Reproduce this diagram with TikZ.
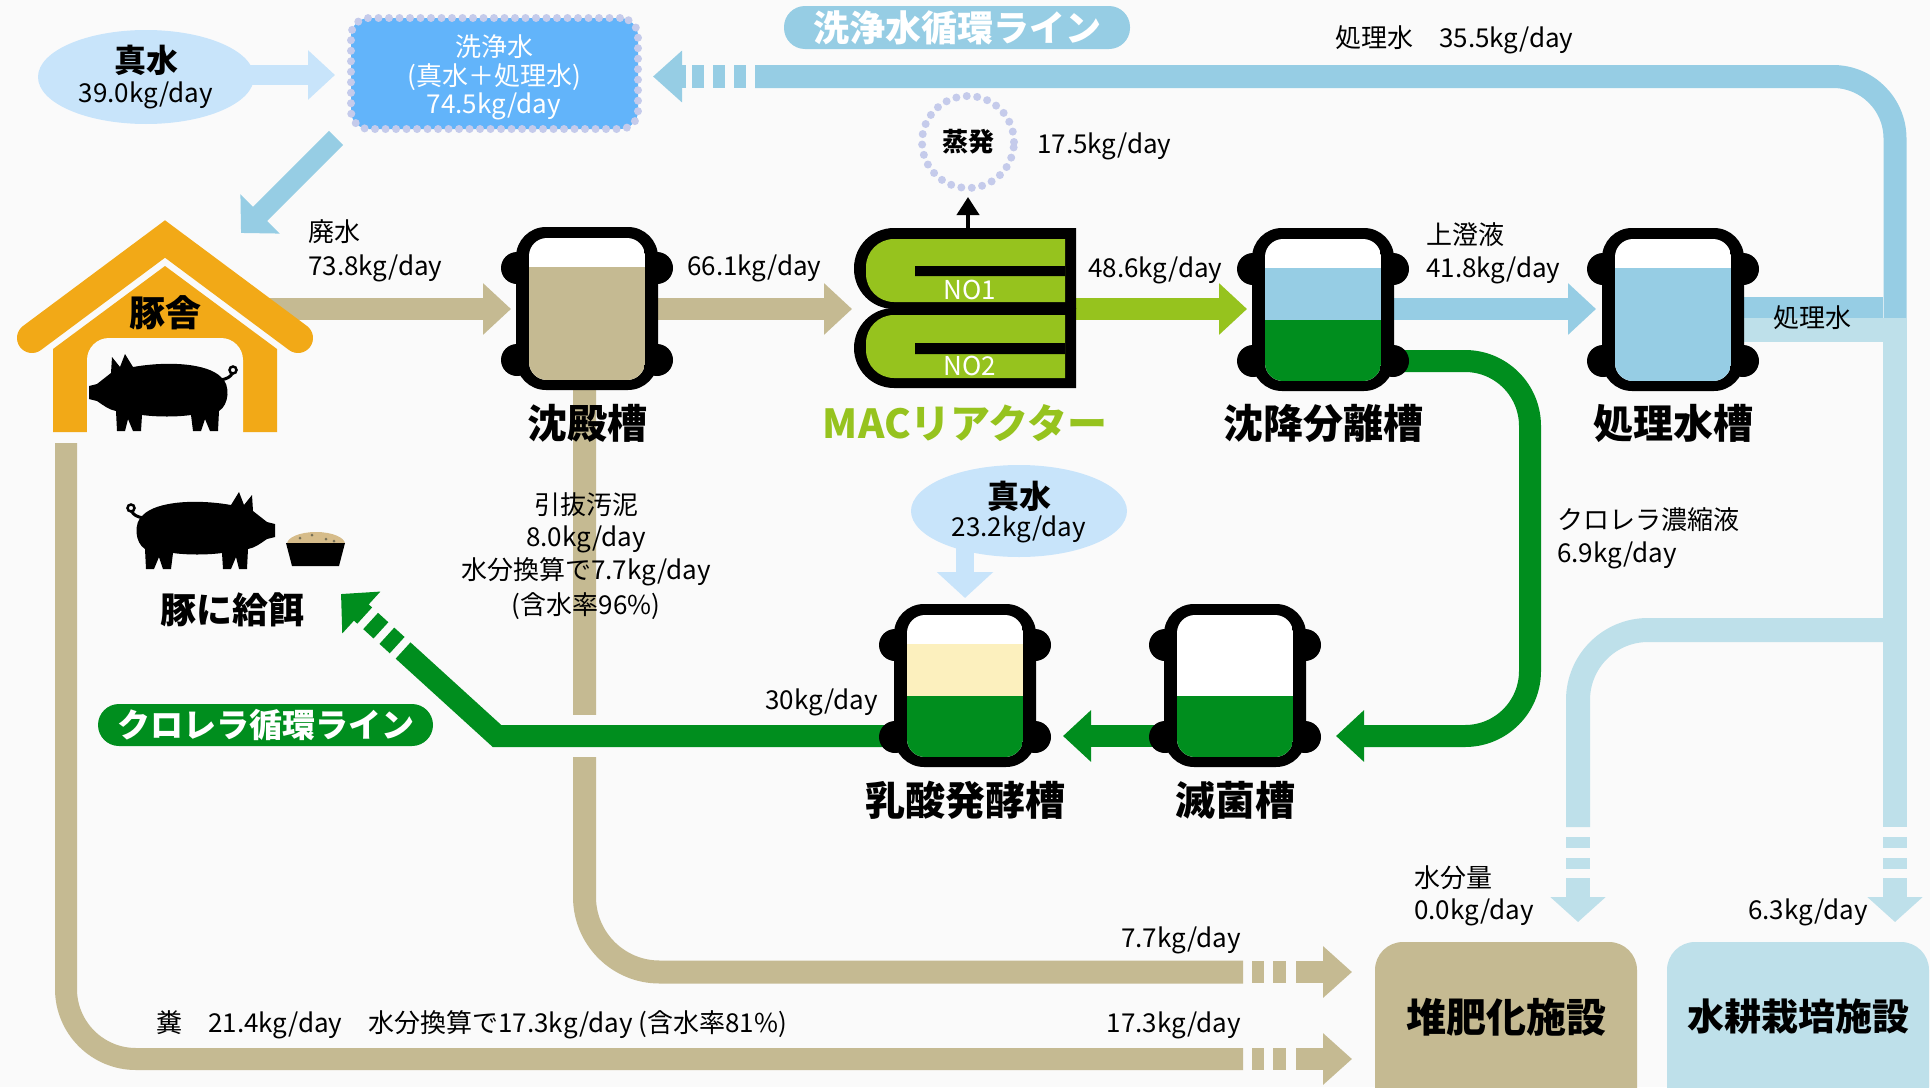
\documentclass[tikz,border=0pt]{standalone}
\usepackage{fontspec}
\setmainfont{Noto Sans CJK JP}
\usetikzlibrary{arrows.meta,calc,shapes.geometric}

\definecolor{paper}{RGB}{250,250,250}
\definecolor{sludge}{RGB}{197,186,146}
\definecolor{barn}{RGB}{242,169,23}
\definecolor{macgreen}{RGB}{150,195,30}
\definecolor{chlorella}{RGB}{0,142,30}
\definecolor{loopblue}{RGB}{150,205,228}
\definecolor{paleblue}{RGB}{190,224,234}
\definecolor{freshblue}{RGB}{200,228,250}
\definecolor{washblue}{RGB}{98,180,250}
\definecolor{cream}{RGB}{252,240,190}
\definecolor{dotline}{RGB}{197,203,235}
\definecolor{feed}{RGB}{214,188,138}

\tikzset{
  pics/tank/.style 2 args={code={
    \fill (-70,41) circle[radius=16] (70,41) circle[radius=16]
          (-70,133) circle[radius=16] (70,133) circle[radius=16];
    \fill[rounded corners=30pt] (-71,0) rectangle (71,163);
    \begin{scope}
      \clip[rounded corners=18pt] (-58,11) rectangle (58,153);
      \fill[white] (-58,11) rectangle (58,153);
      \fill[#1] (-58,40) rectangle (58,92);
      \fill[#2] (-58,92) rectangle (58,153);
    \end{scope}
  }},
  pics/pig/.style={code={
    \fill (16,22) .. controls (30,8) and (70,6) .. (104,12)
      -- (112,-1) -- (117,12) -- (125,2) -- (126,18)
      .. controls (133,23) .. (140,29) -- (148,31) -- (148,44) -- (140,46)
      .. controls (134,50) and (128,55) .. (121,56)
      -- (120,76) -- (112,76) -- (109,64) -- (104,76) -- (96,76) -- (95,60)
      .. controls (80,62) and (60,62) .. (46,60)
      -- (44,76) -- (36,76) -- (32,64) -- (27,76) -- (19,76) -- (18,56)
      .. controls (8,50) and (6,30) .. (16,22) -- cycle;
    \draw[line width=3pt] (17,25) .. controls (10,24) and (7,22) .. (5,19);
    \draw[line width=2.5pt] (4,15) circle[radius=3.5];
  }}
}

\begin{document}
\begin{tikzpicture}[x=1pt,y=-1pt,
  lbl/.style={font=\fontsize{26}{30}\selectfont, inner sep=0pt},
  ttl/.style={font=\fontsize{40}{46}\selectfont\bfseries, inner sep=0pt},
  pipe/.style={line width=22pt},
  flowtip/.style={-{Triangle[length=28pt,width=50pt]}},
  dots/.style={draw=dotline, line width=8pt, line cap=round, dash pattern=on 0pt off 10.5pt},
  pill/.style={rounded corners=21pt, inner sep=0pt, text=white, font=\fontsize{34}{38}\selectfont\bfseries}]

\clip (0,0) rectangle (1930,1087);
\fill[paper] (0,0) rectangle (1930,1087);

% washing water loop along the top
\node[pill, fill=loopblue, minimum width=346pt, minimum height=43pt, font=\fontsize{36}{40}\selectfont\bfseries] (washline) at (957,27.5) {洗浄水循環ライン};
\draw[loopblue, line width=23pt, rounded corners=62pt] (1895,318) -- (1895,76.5) -- (755,76.5);
\foreach \a in {734,713,692}
  \draw[loopblue, line width=23pt] (\a,76.5) -- ++(12,0);
\draw[loopblue, line width=23pt, -{Triangle[length=29pt,width=50pt]}] (686,76.5) -- (653,76.5);
\node[lbl, anchor=west] (loopval) at (1335,40) {処理水　35.5kg/day};

% fresh water and wash water box
\draw[freshblue, line width=20pt, -{Triangle[length=27pt,width=48pt]}] (220,75) -- (335,75);
\node[ellipse, fill=freshblue, minimum width=216pt, minimum height=94pt] (fresh) at (146,77) {};
\node[font=\fontsize{32}{36}\selectfont\bfseries] (freshname) at (146,60) {真水};
\node[lbl] (freshval) at (146,95) {39.0kg/day};

\node[dots, fill=washblue, rounded corners=18pt, minimum width=287pt, minimum height=111pt] (wash) at (494.5,73.5) {};
\node[lbl, text=white] (wash1) at (494,47) {洗浄水};
\node[lbl, text=white] (wash2) at (494,77) {(真水＋処理水)};
\node[lbl, text=white] (wash3) at (494,106) {74.5kg/day};
\draw[loopblue, line width=20pt, -{Triangle[length=27pt,width=54pt]}] (336,138) -- (241,233);

% manure and sludge lines to the compost plant
\draw[sludge, pipe, rounded corners=70pt] (66,443) -- (66,1059) -- (1243,1059);
\draw[sludge, line width=23pt, rounded corners=75pt] (584.5,380) -- (584.5,972) -- (1243,972);
\foreach \y in {972,1059} {
  \draw[sludge, pipe] (1252,\y) -- (1264,\y) (1273,\y) -- (1286,\y);
  \draw[sludge, pipe, -{Triangle[length=29pt,width=50pt]}] (1296,\y) -- (1352,\y);
}

% main treatment line
\draw[sludge, pipe, flowtip] (250,309) -- (511,309);
\draw[sludge, pipe, flowtip] (600,309) -- (852,309);
\draw[macgreen, pipe, flowtip] (1000,309) -- (1247,309);
\draw[loopblue, pipe, flowtip] (1330,309) -- (1596,309);
\draw[loopblue, line width=21pt] (1700,307.5) -- (1883,307.5);
\draw[paleblue, line width=24pt] (1700,330) -- (1883,330);

% treated water down to the facilities
\draw[paleblue, line width=24pt] (1895,318) -- (1895,827);
\draw[paleblue, line width=24pt, rounded corners=70pt] (1895,630) -- (1578,630) -- (1578,827);
\foreach \x in {1578,1895} {
  \draw[paleblue, line width=24pt] (\x,837) -- (\x,848) (\x,858) -- (\x,869);
  \draw[paleblue, line width=24pt, -{Triangle[length=25pt,width=54pt]}] (\x,878) -- (\x,922);
}

% chlorella line
\coordinate (bend) at (497,736);
\coordinate (feedtip) at (341,594);
\draw[chlorella, pipe, rounded corners=65pt, flowtip] (1330,361) -- (1530,361) -- (1530,736) -- (1336,736);
\draw[chlorella, pipe, flowtip] (1235,736) -- (1063,736);
\draw[paper, line width=42pt] (560,736) -- (610,736);
\draw[chlorella, pipe] (965,736) -- (bend) -- ($(feedtip)!0.398!(bend)$);
\draw[chlorella, pipe] ($(feedtip)!0.294!(bend)$) -- ($(feedtip)!0.360!(bend)$)
                       ($(feedtip)!0.190!(bend)$) -- ($(feedtip)!0.256!(bend)$);
\draw[chlorella, pipe, -{Triangle[length=27.5pt,width=55pt]}] ($(feedtip)!0.152!(bend)$) -- (feedtip);
\node[pill, fill=chlorella, minimum width=335pt, minimum height=42pt, font=\fontsize{33}{37}\selectfont\bfseries] (chlline) at (265.5,725) {クロレラ循環ライン};

% pig barn
\fill[barn] (53,432) -- (53,349) -- (165,266) -- (277,349) -- (277,432) -- cycle;
\fill[paper, rounded corners=22pt] (87,433) -- (87,338) -- (243,338) -- (243,433);
\draw[barn, line width=30pt, line cap=round] (32,338) -- (165,239) -- (298,338);
\node[font=\fontsize{36}{40}\selectfont\bfseries] (barnname) at (165,313) {豚舎};
\pic[xscale=-1] at (237,355) {pig};

% feeding
\pic at (127,493) {pig};
\fill[feed] (287,544) arc[start angle=180, end angle=360, x radius=29, y radius=12];
\fill[sludge!60!black] (300,538) circle[radius=1.5] (312,535) circle[radius=1.5]
  (326,539) circle[radius=1.5] (334,541) circle[radius=1.5];
\fill (286,543) -- (345,543) -- (339,566) -- (292,566) -- cycle;
\node[font=\fontsize{36}{40}\selectfont\bfseries] (feedname) at (232,610) {豚に給餌};

% tanks
\pic at (587,227) {tank={sludge}{sludge}};
\pic at (1323,228) {tank={loopblue}{chlorella}};
\pic at (1673,228) {tank={loopblue}{loopblue}};
\pic at (965,604) {tank={cream}{chlorella}};
\pic at (1235,604) {tank={white}{chlorella}};

% MAC reactor
\fill[rounded corners=40pt] (1076,228) -- (854,228) -- (854,309) -- (1076,309);
\fill[rounded corners=40pt] (1076,308) -- (854,308) -- (854,388) -- (1076,388);
\fill[macgreen, rounded corners=28pt] (1065,239) -- (866,239) -- (866,302) -- (1065,302);
\fill[macgreen, rounded corners=28pt] (1065,315) -- (866,315) -- (866,378) -- (1065,378);
\fill (915,266) rectangle (1065,276) (915,343) rectangle (1065,354);
\node[font=\fontsize{26}{30}\selectfont, text=white, inner sep=0pt] (no1) at (970,290) {NO1};
\node[font=\fontsize{26}{30}\selectfont, text=white, inner sep=0pt] (no2) at (970,366) {NO2};

% evaporation
\node[circle, dots, minimum size=92pt, font=\fontsize{26}{30}\selectfont\bfseries] (evap) at (968,142) {蒸発};
\draw[line width=4pt, -{Triangle[length=18pt,width=22pt]}, shorten >=5pt] (968,228) -- (evap.south);
\node[lbl, anchor=west] (evapval) at (1037,146) {17.5kg/day};

% fresh water for lactic fermentation
\draw[freshblue, line width=18pt, -{Triangle[length=26pt,width=55pt]}] (965,540) -- (965,598);
\node[ellipse, fill=freshblue, minimum width=216pt, minimum height=92pt] (fresh2) at (1019,511) {};
\node[font=\fontsize{32}{36}\selectfont\bfseries] (fresh2name) at (1019,496) {真水};
\node[lbl] (fresh2val) at (1019,529) {23.2kg/day};

% facilities
\fill[sludge, rounded corners=28pt] (1375,942) rectangle (1637,1130);
\fill[paleblue, rounded corners=28pt] (1667,942) rectangle (1929,1130);
\node[ttl] (compost) at (1506,1017) {堆肥化施設};
\node[ttl, font=\fontsize{37}{42}\selectfont\bfseries] (hydro) at (1798,1017) {水耕栽培施設};

% tank names
\node[ttl] (sedim) at (587,423) {沈殿槽};
\node[ttl, text=macgreen] (mac) at (965,423) {MACリアクター};
\node[ttl] (settle) at (1323,423) {沈降分離槽};
\node[ttl] (treated) at (1673,423) {処理水槽};
\node[ttl] (lactic) at (965,800) {乳酸発酵槽};
\node[ttl] (steril) at (1235,800) {滅菌槽};

% flow values
\node[lbl, anchor=west] (waste1) at (308,232) {廃水};
\node[lbl, anchor=west] (waste2) at (308,268) {73.8kg/day};
\node[lbl, anchor=west] (flow1) at (687,268) {66.1kg/day};
\node[lbl, anchor=west] (flow2) at (1088,270) {48.6kg/day};
\node[lbl, anchor=west] (super1) at (1426,235) {上澄液};
\node[lbl, anchor=west] (super2) at (1426,270) {41.8kg/day};
\node[lbl] (treatedout) at (1812,318) {処理水};
\node[lbl, anchor=west] (conc1) at (1557,520) {クロレラ濃縮液};
\node[lbl, anchor=west] (conc2) at (1557,555) {6.9kg/day};
\node[lbl, anchor=east] (feedval) at (878,702) {30kg/day};
\node[lbl] (sludge1) at (586,505) {引抜汚泥};
\node[lbl] (sludge2) at (586,539) {8.0kg/day};
\node[lbl] (sludge3) at (586,572) {水分換算で7.7kg/day};
\node[lbl] (sludge4) at (586,606) {(含水率96\%)};
\node[lbl, anchor=west] (moist1) at (1414,878) {水分量};
\node[lbl, anchor=west] (moist2) at (1414,912) {0.0kg/day};
\node[lbl, anchor=east] (hydroval) at (1868,912) {6.3kg/day};
\node[lbl, anchor=east] (compval1) at (1241,940) {7.7kg/day};
\node[lbl, anchor=east] (compval2) at (1241,1025) {17.3kg/day};
\node[lbl, anchor=west] (manure) at (156,1025) {糞　21.4kg/day　水分換算で17.3kg/day (含水率81\%)};
\end{tikzpicture}
\end{document}
